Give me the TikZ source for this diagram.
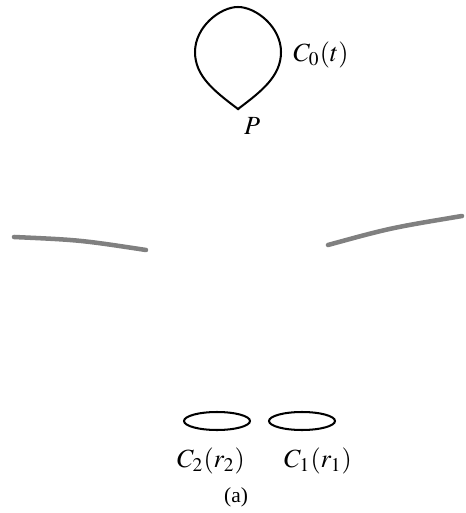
\documentclass[tikz,border=0pt]{standalone}
\usepackage{mathptmx}
\usepackage{fontspec}
\setmainfont{Liberation Serif}
\begin{document}
\begin{tikzpicture}[x=0.42pt,y=-0.42pt,line width=0.85pt,
    font=\fontsize{11}{13}\selectfont,
    arm/.style={gray,line width=1.9pt,line cap=round}]
  \useasboundingbox (0,0) rectangle (465,513);
  % teardrop with its cusp at P
  \draw (238,109) .. controls (214,91) and (195,76) .. (195,52)
    .. controls (195,27) and (220,7) .. (238,7)
    .. controls (256,7) and (281,27) .. (281,52)
    .. controls (281,76) and (262,91) .. (238,109);
  \fill (238,109) circle (1.5);
  \node (c0) at (321,55) {$C_0(t)$};
  \node (p) at (252,126) {$P$};
  % grey arms
  \draw[arm] (14,237) .. controls (80,240) .. (146,250);
  \draw[arm] (328,245) .. controls (390,228) .. (462,216);
  % the two small loops
  \foreach \cx in {217,302}
    \draw (\cx,421) ellipse (33 and 9);
  \node (c2) at (211,461) {$C_2(r_2)$};
  \node (c1) at (318,461) {$C_1(r_1)$};
  \node[font=\fontsize{9}{11}\selectfont] (cap) at (236,497) {(a)};
\end{tikzpicture}
\end{document}
